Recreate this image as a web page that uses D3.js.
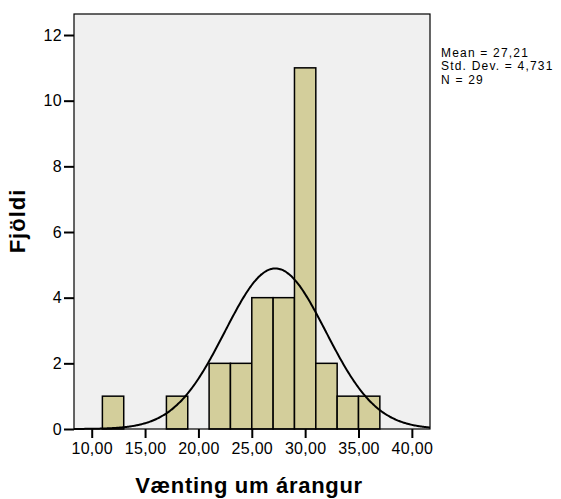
<!DOCTYPE html>
<html>
<head>
<meta charset="utf-8">
<script src="https://cdn.jsdelivr.net/npm/d3@7"></script>
<style>
  body { margin: 0; background: #fff; }
  text { font-family: "Liberation Sans", Arial, sans-serif; }
</style>
</head>
<body>
<div id="chart"></div>
<script>
// histogram bins (lower edge, upper edge) and counts
var binStart = [11, 17, 21, 23, 25, 27, 29, 31, 33, 35];
var binEnd   = [13, 19, 23, 25, 27, 29, 31, 33, 35, 37];
var counts   = [1, 1, 2, 2, 4, 4, 11, 2, 1, 1];

var xTicks = [10, 15, 20, 25, 30, 35, 40];
var yTicks = [0, 2, 4, 6, 8, 10, 12];

// summary stats printed by SPSS
var mean = 27.21, sd = 4.731, n = 29;
var statLines = ["Mean = 27,21", "Std. Dev. = 4,731", "N = 29"];

var svg_width = 561, svg_height = 499;
var margins = { left: 74, top: 14, right: 131, bottom: 70 };
var width = svg_width - margins.left - margins.right;
var height = svg_height - margins.top - margins.bottom;

var svg = d3.select("#chart").append("svg")
  .attr("width", svg_width)
  .attr("height", svg_height);

var g = svg.append("g")
  .attr("transform", "translate(" + margins.left + "," + margins.top + ")");

var x = d3.scaleLinear().domain([8.34, 41.7]).range([0, width]);
var y = d3.scaleLinear().domain([0, 12.64]).range([height, 0]);

// plot background
g.append("rect")
  .attr("width", width)
  .attr("height", height)
  .style("fill", "#f0f0f0");

// bars
g.append("g").selectAll("rect")
  .data(counts)
  .enter().append("rect")
  .attr("x", (d, i) => x(binStart[i]))
  .attr("y", d => y(d))
  .attr("width", (d, i) => x(binEnd[i]) - x(binStart[i]))
  .attr("height", d => y(0) - y(d))
  .style("fill", "#d3ce9b")
  .style("stroke", "#000")
  .style("stroke-width", 1.5);

// normal curve scaled to counts
var binW = 2;
var pts = d3.range(0, 301).map(i => {
  var v = x.domain()[0] + (x.domain()[1] - x.domain()[0]) * i / 300;
  var z = (v - mean) / sd;
  return [v, n * binW * Math.exp(-0.5 * z * z) / (sd * Math.sqrt(2 * Math.PI))];
});
var line = d3.line().x(d => x(d[0])).y(d => y(d[1])).curve(d3.curveBasis);
g.append("path")
  .datum(pts)
  .attr("d", line)
  .style("fill", "none")
  .style("stroke", "#000")
  .style("stroke-width", 2);

// frame
g.append("rect")
  .attr("width", width)
  .attr("height", height)
  .style("fill", "none")
  .style("stroke", "#000")
  .style("stroke-width", 1.2);

// axes
var xAxis = d3.axisBottom(x)
  .tickValues(xTicks)
  .tickSize(9)
  .tickPadding(5)
  .tickFormat(d => d3.format(".2f")(d).replace(".", ","));
var yAxis = d3.axisLeft(y)
  .tickValues(yTicks)
  .tickSize(10)
  .tickPadding(2)
  .tickFormat(d3.format("d"));

var gx = g.append("g")
  .attr("transform", "translate(0," + height + ")")
  .call(xAxis);
var gy = g.append("g").call(yAxis);

[gx, gy].forEach(a => {
  a.select(".domain").remove();
  a.selectAll(".tick line").style("stroke", "#000").style("stroke-width", 2);
  a.selectAll(".tick text")
    .style("font-size", "16px")
    .style("letter-spacing", "0.3px")
    .style("fill", "#000")
    .style("font-family", "'Liberation Sans', Arial, sans-serif");
});

// axis titles
svg.append("text")
  .attr("x", 249)
  .attr("y", 493)
  .attr("text-anchor", "middle")
  .style("font-size", "22px")
  .style("font-weight", "bold")
  .style("letter-spacing", "0.7px")
  .text("Vænting um árangur");

svg.append("text")
  .attr("transform", "translate(25,221) rotate(-90)")
  .attr("text-anchor", "middle")
  .style("font-size", "22px")
  .style("font-weight", "bold")
  .style("letter-spacing", "1px")
  .text("Fjöldi");

// stats box text
svg.append("g").selectAll("text")
  .data(statLines)
  .enter().append("text")
  .attr("x", 441)
  .attr("y", (d, i) => 56.5 + i * 13.5)
  .style("font-size", "12px")
  .style("letter-spacing", "1.2px")
  .text(d => d);
</script>
</body>
</html>
